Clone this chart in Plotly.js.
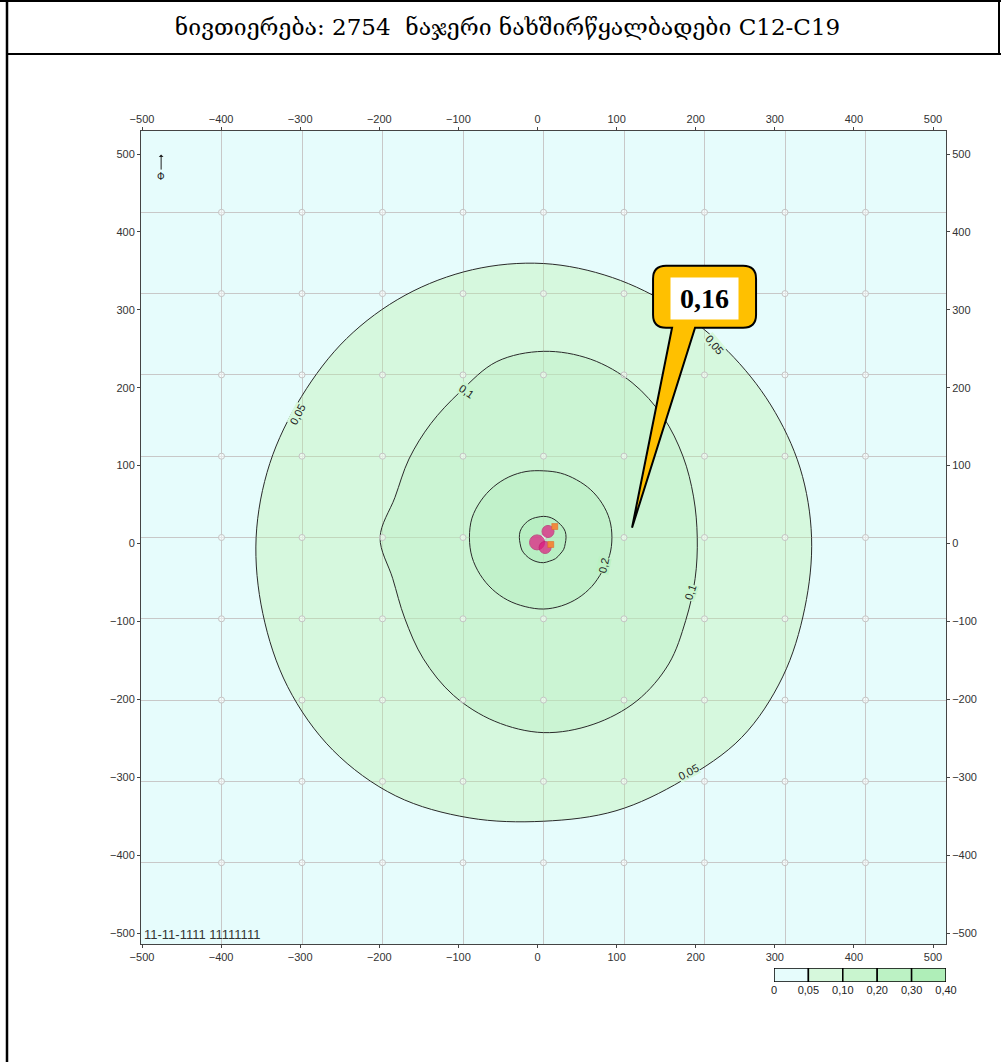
<!DOCTYPE html>
<html><head><meta charset="utf-8">
<script src="https://cdn.plot.ly/plotly-3.0.1.min.js"></script>
<style>html,body{margin:0;padding:0;background:#fff}#chart{width:1001px;height:1062px}</style>
</head><body><div id="chart"></div>
<script>
// ---------- data ----------
const titleText = 'ნივთიერება: 2754  ნაჯერი ნახშირწყალბადები C12-C19';
const angles = [0,15,30,45,60,75,90,105,120,135,150,165,180,195,210,225,240,255,270,285,300,315,330,345];
// contour radii (m) at each angle
const r005 = [333,330,326,324,326,331,337,341,344,346,347,352,357,361,367,370,367,357,349,348,345,348,343,336];
const r01  = [191,193,200,210,220,227,229,224,207,198,193,191,203,194,199,211,224,234,240,238,232,220,204,195];
const r02  = [85,85,84,83,82,82,82,84,86,88,90,92,92,92,91,90,89,88,88,87,86,85,84,85];
const r03  = [28,28,27,26,26,26,26,26,27,28,29,30,30,30,31,31,31,31,31,30,30,29,29,28];
const contourRadii = [r005, r01, r02, r03];
const sourceX = [5.6, -8, 2];
const sourceY = [7.4, -6, -12.3];
const ventX = [14, 9];
const ventY = [13.5, -8.6];
const gridTicks = [-400,-300,-200,-100,0,100,200,300,400];
const labelTicks = [-500,-400,-300,-200,-100,0,100,200,300,400,500];
const legendLabels = ['0','0,05','0,10','0,20','0,30','0,40'];
const legendColors = ['#e6fcfc','#d6f8dc','#c9f5cf','#bcf2c4','#afeeb8'];
const bgColor = '#e6fcfc';
const regionTargets = [[214,248,222],[203,245,211],[193,242,202],[185,240,195]];
const contourLabelText  = ['0,05','0,05','0,05','0,1','0,1','0,2'];
const contourLabelX     = [213,-306,180,-96,182,75];
const contourLabelY     = [237,151,-289,180,-68,-34];
const contourLabelAngle = [50,-63,-28,35,-72,-78];
const contourLabelLevel = [1,1,1,2,2,3];
const calloutValue = '0,16';
const calloutTip = [110, 12];
const stampText = '11-11-1111 11111111';

// ---------- geometry helpers (layout only) ----------
const ML = 141, MR = 55, MT = 131, MB = 60, W = 1001, H = 1062;
const plotW = W - ML - MR, paperH = H - MT - MB;      // 805, 871
const frameBottomPx = 944;
const mainDomLo = (H - MB - frameBottomPx) / paperH;
const plotH = frameBottomPx - MT;                      // 813
const sx = 1000 / plotW, sy = 1000 / plotH;
const xp = px => (px - ML) / plotW;
const yp = py => (H - MB - py) / paperH;

// fill colours: semi transparent so the grid shows through
const alpha = 0.35;
function fillFor(i) {
  const prev = i === 0 ? [230,252,252] : regionTargets[i-1];
  const t = regionTargets[i];
  const f = t.map((v, k) => Math.max(0, Math.min(255, Math.round((v - (1 - alpha) * prev[k]) / alpha))));
  return `rgba(${f[0]},${f[1]},${f[2]},${alpha})`;
}

const traces = [];
contourRadii.forEach((rr, i) => {
  const xs = [], ys = [];
  angles.forEach((a, k) => {
    const t = a * Math.PI / 180;
    xs.push(rr[k] * Math.cos(t)); ys.push(rr[k] * Math.sin(t));
  });
  xs.push(xs[0]); ys.push(ys[0]);
  traces.push({type:'scatter', mode:'lines', x:xs, y:ys, fill:'toself', fillcolor:fillFor(i),
    line:{color:'#2a2a2a', width:1, shape:'spline', smoothing:1}, hoverinfo:'skip', showlegend:false});
});

// grid intersection rings
const gx = [], gy = [];
gridTicks.forEach(a => gridTicks.forEach(b => { gx.push(a); gy.push(b); }));
traces.push({type:'scatter', mode:'markers', x:gx, y:gy, hoverinfo:'skip', showlegend:false,
  marker:{symbol:'circle', size:6, color:'rgba(255,255,255,0.5)', line:{color:'#c4c4c4', width:1}}});

// sources
traces.push({type:'scatter', mode:'markers', x:sourceX, y:sourceY, showlegend:false,
  marker:{symbol:'circle', size:[12,15,12], color:'#e0157f', line:{color:'#c0106a', width:1}}});
traces.push({type:'scatter', mode:'markers', x:ventX, y:ventY, showlegend:false,
  marker:{symbol:'square', size:6, color:'#f08a3c', line:{color:'#e06020', width:0.5}}});

// empty traces for label axes
traces.push({type:'scatter', x:[], y:[], xaxis:'x2', yaxis:'y', showlegend:false, hoverinfo:'skip'});
traces.push({type:'scatter', x:[], y:[], xaxis:'x4', yaxis:'y', showlegend:false, hoverinfo:'skip'});
traces.push({type:'scatter', x:[], y:[], xaxis:'x', yaxis:'y2', showlegend:false, hoverinfo:'skip'});
traces.push({type:'scatter', x:[], y:[], xaxis:'x', yaxis:'y3', showlegend:false, hoverinfo:'skip'});

// colour scale legend
traces.push({type:'bar', xaxis:'x3', yaxis:'y4', x:legendColors.map((c,i)=>i+0.5), y:legendColors.map(()=>1),
  width:1, marker:{color:legendColors, line:{color:'#000', width:1.5}}, showlegend:false, hoverinfo:'skip'});

// label axis ranges (labels in the original are spaced differently from the grid)
const lxLo = -500 - 1 * (1000/791), lxHi = lxLo + 805 * (1000/791);
const lySpan = 1000 * plotH / 779;
const lyHi = 500 + 23 * lySpan / plotH, lyLo = lyHi - lySpan;

const tickFont = {family:'Liberation Sans, Arial, sans-serif', size:11, color:'#333'};

// callout path
function P(dx, dy) { return [calloutTip[0] + dx * sx, calloutTip[1] - dy * sy]; }
const L = 21, R = 124, T = -262, B = -200, rad = 13;
const pt = (dx, dy) => P(dx, dy).join(',');
const calloutPath = `M${pt(L+rad,T)} L${pt(R-rad,T)} Q${pt(R,T)} ${pt(R,T+rad)} L${pt(R,B-rad)} Q${pt(R,B)} ${pt(R-rad,B)} L${pt(63,B)} L${pt(0,0)} L${pt(40,B)} L${pt(L+rad,B)} Q${pt(L,B)} ${pt(L,B-rad)} L${pt(L,T+rad)} Q${pt(L,T)} ${pt(L+rad,T)} Z`;

const shapes = [
  {type:'path', path:calloutPath, xref:'x', yref:'y', fillcolor:'#ffc000', line:{color:'#000', width:2}, layer:'above'},
  // page frame
  {type:'line', xref:'paper', yref:'paper', x0:xp(0), x1:xp(1001), y0:yp(1), y1:yp(1), line:{color:'#000', width:2}},
  {type:'line', xref:'paper', yref:'paper', x0:xp(7), x1:xp(1001), y0:yp(54), y1:yp(54), line:{color:'#000', width:2}},
  {type:'line', xref:'paper', yref:'paper', x0:xp(7), x1:xp(7), y0:yp(0), y1:yp(1062), line:{color:'#000', width:2.5}},
  {type:'line', xref:'paper', yref:'paper', x0:xp(999), x1:xp(999), y0:yp(0), y1:yp(54), line:{color:'#000', width:2}}
];

const annotations = [];
contourLabelText.forEach((t, i) => {
  annotations.push({x:contourLabelX[i], y:contourLabelY[i], xref:'x', yref:'y', text:t, showarrow:false,
    textangle:contourLabelAngle[i], font:{family:'Liberation Sans, Arial, sans-serif', size:11, color:'#222'},
    bgcolor:legendColors[contourLabelLevel[i]], borderpad:0});
});
const cc = P(72.5, -229.5);
annotations.push({x:cc[0], y:cc[1], xref:'x', yref:'y', text:'<b>' + calloutValue + '</b>', showarrow:false,
  bgcolor:'#fff', width:65, height:39, font:{family:'Liberation Serif, Times New Roman, serif', size:28, color:'#000'}});
annotations.push({x:-500, y:-500, xref:'x', yref:'y', text:stampText, showarrow:false, xanchor:'left', yanchor:'bottom',
  xshift:1, yshift:0, font:{family:'Liberation Sans, Arial, sans-serif', size:13, color:'#333'}});
// north arrow
annotations.push({x:-475, y:471, xref:'x', yref:'y', text:'Ф', showarrow:true, ax:0, ay:22, arrowhead:1,
  arrowsize:0.8, arrowwidth:1, arrowcolor:'#222', font:{family:'Liberation Sans, Arial', size:10, color:'#222'}});

const layout = {
  width:W, height:H, margin:{l:ML, r:MR, t:MT, b:MB, pad:0},
  paper_bgcolor:'#fff', plot_bgcolor:bgColor, showlegend:false, bargap:0,
  title:{text:titleText, font:{family:'DejaVu Serif, DejaVu Sans, serif', size:23, color:'#000'},
    x:0.507, xref:'container', xanchor:'center', y:1 - 27/H, yref:'container', yanchor:'middle'},
  xaxis:{range:[-500,500], tickvals:gridTicks, showticklabels:false, ticks:'', showgrid:true, gridcolor:'#c8c8c8',
    gridwidth:1, zeroline:false, showline:true, mirror:true, linecolor:'#444', linewidth:1, fixedrange:true},
  yaxis:{range:[-500,500], domain:[mainDomLo,1], tickvals:gridTicks, showticklabels:false, ticks:'', showgrid:true,
    gridcolor:'#c8c8c8', gridwidth:1, zeroline:false, showline:true, mirror:true, linecolor:'#444', linewidth:1, fixedrange:true},
  xaxis2:{overlaying:'x', side:'top', anchor:'y', range:[lxLo,lxHi], tickvals:labelTicks, ticks:'outside', ticklen:3,
    tickcolor:'#444', showgrid:false, zeroline:false, tickfont:tickFont, showline:false},
  xaxis4:{overlaying:'x', side:'bottom', anchor:'y', range:[lxLo,lxHi], tickvals:labelTicks, ticks:'outside', ticklen:3,
    tickcolor:'#444', showgrid:false, zeroline:false, tickfont:tickFont, showline:false},
  yaxis2:{overlaying:'y', side:'left', anchor:'x', range:[lyLo,lyHi], tickvals:labelTicks, ticks:'outside', ticklen:3,
    tickcolor:'#444', showgrid:false, zeroline:false, tickfont:tickFont, showline:false},
  yaxis3:{overlaying:'y', side:'right', anchor:'x', range:[lyLo,lyHi], tickvals:labelTicks, ticks:'outside', ticklen:3,
    tickcolor:'#444', showgrid:false, zeroline:false, tickfont:tickFont, showline:false},
  xaxis3:{domain:[xp(774), 1], anchor:'y4', range:[0,5], tickvals:legendLabels.map((l,i)=>i), ticktext:legendLabels,
    ticks:'', showgrid:false, zeroline:false, showline:false, tickfont:{family:'Liberation Sans, Arial', size:11, color:'#222'}},
  yaxis4:{domain:[yp(982), yp(968)], anchor:'x3', range:[0,1], visible:false},
  shapes:shapes, annotations:annotations
};

Plotly.newPlot('chart', traces, layout, {displayModeBar:false, staticPlot:true});
</script></body></html>
